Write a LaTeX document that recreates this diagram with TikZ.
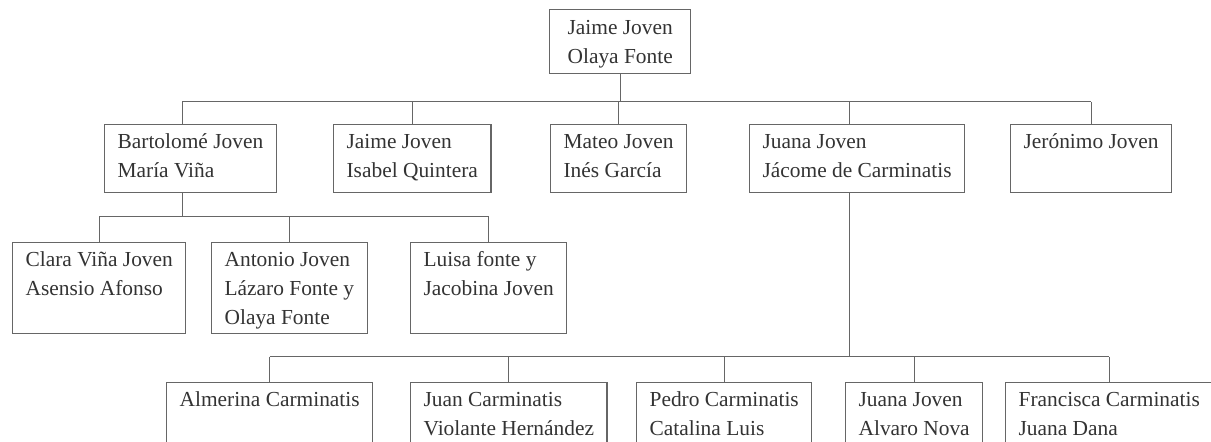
\documentclass[tikz,border=0pt]{standalone}
\usepackage{fontspec}
\setmainfont{Liberation Serif}
\usetikzlibrary{calc,positioning}
\newcommand{\names}[1]{\begin{tabular}[t]{@{}l@{}}#1\end{tabular}}
\tikzstyle{person}=[
  draw=black!60,
  text=black!80,
  font={\fontsize{10.7pt}{14.5pt}\selectfont},
  anchor=north west,
  inner xsep=6.5pt,
  inner ysep=0pt,
  line width=.6pt,
  rectangle,
  text height=12pt,
]
\tikzstyle{gen0}=[person, inner xsep=9pt, text height=12.5pt, text depth=19.5pt]
\tikzstyle{gen1}=[person, text depth=22pt]
\tikzstyle{gen2}=[person, text depth=33.5pt]
\tikzstyle{gen3}=[person, text depth=22pt]
\tikzstyle{link}=[
  draw=black!60,
  line width=.5pt,
]

\begin{document}
\begin{tikzpicture}[x=.5pt, y=-.5pt]
    \clip (0,0) rectangle (1211,442);
    \node (jaime) [gen0] at (549,9) {\names{Jaime Joven\\Olaya Fonte}};
    \coordinate (bus1) at (0,102);
    \coordinate (bus2) at (0,217);
    \coordinate (bus3) at (0,357);
    %%
    \node (bartolome) [gen1] at (104,124) {\names{Bartolomé Joven\\María Viña}};
    \node (jaimej) [gen1] at (333,124) {\names{Jaime Joven\\Isabel Quintera}};
    \node (mateo) [gen1] at (550,124) {\names{Mateo Joven\\Inés García}};
    \node (juana) [gen1] at (749,124) {\names{Juana Joven\\Jácome de Carminatis}};
    \node (jeronimo) [gen1] at (1010,124) {\names{Jerónimo Joven}};
    \coordinate (B) at ($(bartolome.north)+(-8,0)$);
    \coordinate (J) at ($(juana.north)+(-8,0)$);
    %%
    \node (clara) [gen2] at (12,242) {\names{Clara Viña Joven\\Asensio Afonso}};
    \node (antonio) [gen2] at (211,242) {\names{Antonio Joven\\Lázaro Fonte y\\Olaya Fonte}};
    \node (luisa) [gen2] at (410,242) {\names{Luisa fonte y\\Jacobina Joven}};
    %%
    \node (almerina) [gen3] at (166,382) {\names{Almerina Carminatis}};
    \node (juan) [gen3] at (410,382) {\names{Juan Carminatis\\Violante Hernández}};
    \node (pedro) [gen3] at (636,382) {\names{Pedro Carminatis\\Catalina Luis}};
    \node (juanaj) [gen3] at (845,382) {\names{Juana Joven\\Alvaro Nova}};
    \node (francisca) [gen3] at (1005,382) {\names{Francisca Carminatis\\Juana Dana}};
    %%
    \draw [link] (jaime.south) -- (jaime.south|-bus1);
    \draw [link] (B|-bus1) -- (jeronimo.north|-bus1);
    \draw [link] (B|-bus1) -- (B|-bartolome.north);
    \draw [link] (jaimej.north|-bus1) -- (jaimej.north);
    \draw [link] (mateo.north|-bus1) -- (mateo.north);
    \draw [link] (J|-bus1) -- (J|-juana.north);
    \draw [link] (jeronimo.north|-bus1) -- (jeronimo.north);
    %%
    \draw [link] (B|-bartolome.south) -- (B|-bus2);
    \draw [link] (clara.north|-bus2) -- (luisa.north|-bus2);
    \draw [link] (clara.north|-bus2) -- (clara.north);
    \draw [link] (antonio.north|-bus2) -- (antonio.north);
    \draw [link] (luisa.north|-bus2) -- (luisa.north);
    %%
    \draw [link] (J|-juana.south) -- (J|-bus3);
    \draw [link] (almerina.north|-bus3) -- (francisca.north|-bus3);
    \draw [link] (almerina.north|-bus3) -- (almerina.north);
    \draw [link] (juan.north|-bus3) -- (juan.north);
    \draw [link] (pedro.north|-bus3) -- (pedro.north);
    \draw [link] (juanaj.north|-bus3) -- (juanaj.north);
    \draw [link] (francisca.north|-bus3) -- (francisca.north);
  \end{tikzpicture}
\end{document}
